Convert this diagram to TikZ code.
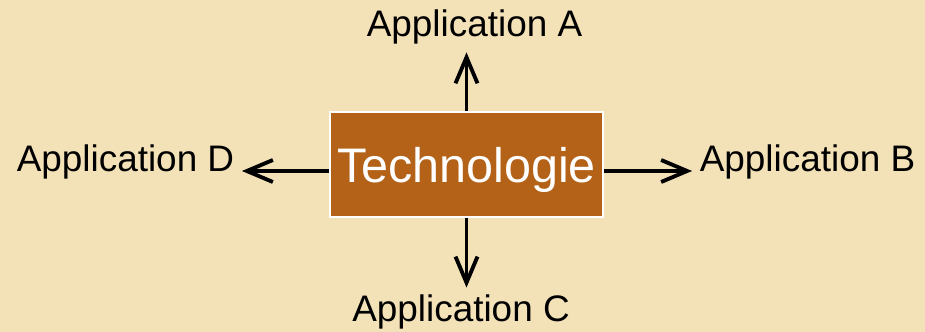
\documentclass[tikz,border=0pt]{standalone}
\usepackage{fontspec}
\setmainfont{Liberation Sans}
\usetikzlibrary{arrows.meta}

\definecolor{paper}{HTML}{F3E2B8}
\definecolor{rust}{HTML}{B46218}

\tikzset{
  app/.style={inner sep=0.147cm,anchor=base,font=\fontsize{21pt}{24pt}\selectfont},
  techbox/.style={draw=white,line width=0.8pt,fill=rust,text=white,inner sep=0pt,
    minimum width=5.46cm,minimum height=2.1cm,text depth=0pt,
    font=\fontsize{27.6pt}{32pt}\selectfont},
  link/.style={line width=2.2pt,-{Straight Barb[length=0.52cm,width=0.44cm,line width=2.2pt]}}
}

\begin{document}
\begin{tikzpicture}
\fill[paper] (0,0) rectangle (18.5,6.64);
\useasboundingbox (0,0) rectangle (18.5,6.64);

\node[techbox](tech) at (9.33,3.35) {Technologie};

\node[app](appA) at (9.49,5.9) {Application A};
\node[app](appB) at (16.15,3.2) {Application B};
\node[app](appC) at (9.22,0.2) {Application C};
\node[app](appD) at (2.51,3.2) {Application D};

% arrows leave the box and stop short of each label
\draw[link] (tech.north) -- (tech.north |- appA.south);
\draw[link] (tech.south) -- (tech.south |- appC.north);
\draw[link] ([yshift=-0.13cm]tech.east) -- ([yshift=-0.13cm]tech.east -| appB.west);
\draw[link] ([yshift=-0.13cm]tech.west) -- ([yshift=-0.13cm]tech.west -| appD.east);
\end{tikzpicture}
\end{document}
